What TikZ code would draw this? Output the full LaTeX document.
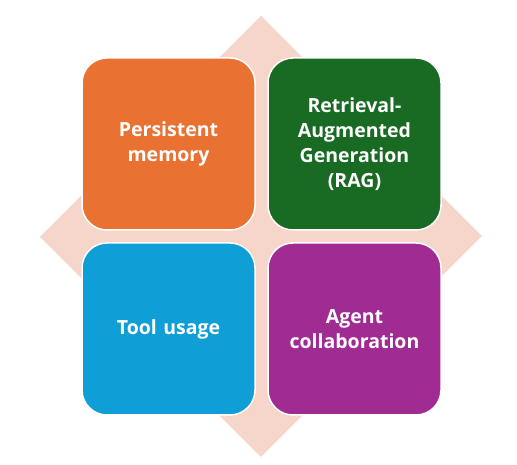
\documentclass[tikz,border=0pt]{standalone}
\usepackage{fontspec}
\setmainfont{Open Sans}
\definecolor{cOrange}{HTML}{E97132}
\definecolor{cGreen}{HTML}{196B24}
\definecolor{cBlue}{HTML}{0F9ED5}
\definecolor{cPurple}{HTML}{A02B93}
\definecolor{cDiamond}{HTML}{F6D5CB}
\tikzset{
  tile/.style={draw=white, line width=1.5pt, rounded corners=25pt, minimum width=173pt, minimum height=172pt,
    inner sep=0pt, text=white, align=center, text width=165pt,
    font=\fontsize{19.5}{25}\selectfont\bfseries},
}
\begin{document}
\begin{tikzpicture}[x=1pt,y=1pt]
\useasboundingbox (0,0) rectangle (517,465);
\fill[cDiamond] (261,449) coordinate (dt) -- (482,229) coordinate (dr) -- (261,8) coordinate (db) -- (40,228) coordinate (dl) -- cycle;
\node[tile, fill=cOrange] (pm) at (168.5,321) {Persistent\\memory};
\node[tile, fill=cGreen] (rag) at (354.5,321) {Retrieval-\\Augmented\\Generation\\(RAG)};
\node[tile, fill=cBlue] (tu) at (168.5,136) {Tool usage};
\node[tile, fill=cPurple] (ac) at (354.5,136) {Agent\\collaboration};
\end{tikzpicture}
\end{document}
